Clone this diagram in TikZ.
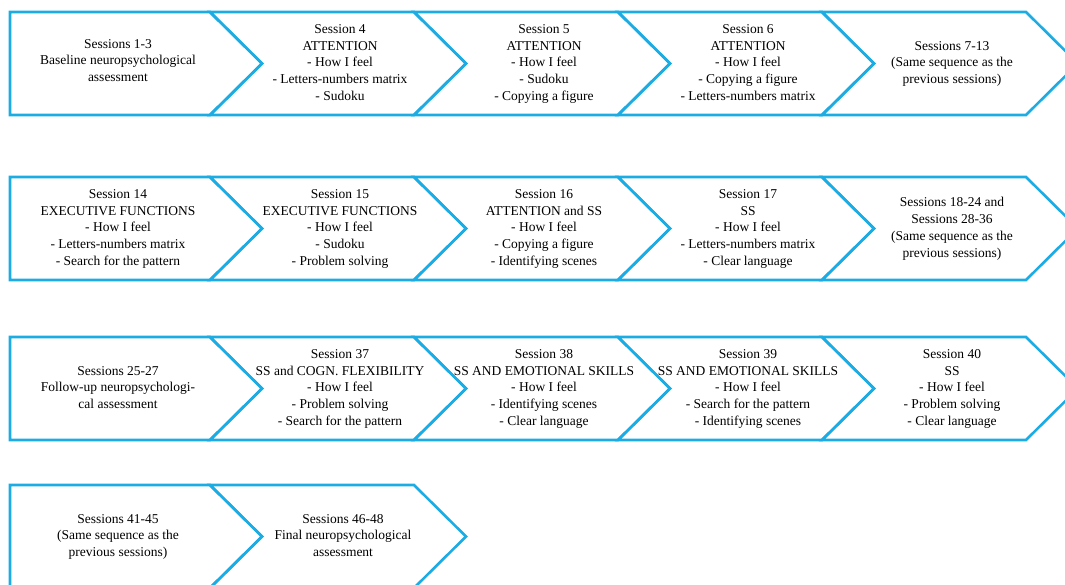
\documentclass[tikz,border=0pt]{standalone}
\usepackage{fontspec}
\setmainfont{Liberation Serif}
\usetikzlibrary{positioning}
\definecolor{chevblue}{RGB}{27,172,228}

\begin{document}
\begin{tikzpicture}[x=1pt,y=-1pt,
chev/.style={draw=chevblue,line width=2.6pt,line join=miter},
lbl/.style={align=center,font=\fontsize{13.5}{16.8}\selectfont,inner sep=0pt,
  execute at begin node=\strut,execute at end node=\strut}]

\useasboundingbox (0,0) rectangle (1065,584);

% elso nyilak (egyenes bal oldal)
\foreach \t in {12,177,337,485}
  \draw[chev] (10,\t) -- (210,\t) -- (262,\t+51.5) -- (210,\t+103) -- (10,\t+103) -- cycle;

% tobbi nyil
\foreach \t/\cols in {12/{210,414,618,822},177/{210,414,618,822},337/{210,414,618,822},485/{210}}
  \foreach \xl in \cols
    \draw[chev] (\xl,\t) -- (\xl+204,\t) -- (\xl+256,\t+51.5) -- (\xl+204,\t+103)
      -- (\xl,\t+103) -- (\xl+52,\t+51.5) -- cycle;

% elso sor
\node[lbl] (s1) at (118,63) {Sessions 1-3\\Baseline neuropsychological\\assessment};
\node[lbl] (s4) at (340,65) {Session 4\\ATTENTION\\- How I feel\\- Letters-numbers matrix\\- Sudoku};
\node[lbl] (s5) at (544,65) {Session 5\\ATTENTION\\- How I feel\\- Sudoku\\- Copying a figure};
\node[lbl] (s6) at (748,65) {Session 6\\ATTENTION\\- How I feel\\- Copying a figure\\- Letters-numbers matrix};
\node[lbl] (s7) at (952,65) {Sessions 7-13\\(Same sequence as the\\previous sessions)};

% masodik sor
\node[lbl] (s14) at (118,230) {Session 14\\EXECUTIVE FUNCTIONS\\- How I feel\\- Letters-numbers matrix\\- Search for the pattern};
\node[lbl] (s15) at (340,230) {Session 15\\EXECUTIVE FUNCTIONS\\- How I feel\\- Sudoku\\- Problem solving};
\node[lbl] (s16) at (544,230) {Session 16\\ATTENTION and SS\\- How I feel\\- Copying a figure\\- Identifying scenes};
\node[lbl] (s17) at (748,230) {Session 17\\SS\\- How I feel\\- Letters-numbers matrix\\- Clear language};
\node[lbl] (s18) at (952,230) {Sessions 18-24 and\\Sessions 28-36\\(Same sequence as the\\previous sessions)};

% harmadik sor
\node[lbl] (s25) at (118,390) {Sessions 25-27\\Follow-up neuropsychologi-\\cal assessment};
\node[lbl] (s37) at (340,390) {Session 37\\SS and COGN. FLEXIBILITY\\- How I feel\\- Problem solving\\- Search for the pattern};
\node[lbl] (s38) at (544,390) {Session 38\\SS AND EMOTIONAL SKILLS\\- How I feel\\- Identifying scenes\\- Clear language};
\node[lbl] (s39) at (748,390) {Session 39\\SS AND EMOTIONAL SKILLS\\- How I feel\\- Search for the pattern\\- Identifying scenes};
\node[lbl] (s40) at (952,390) {Session 40\\SS\\- How I feel\\- Problem solving\\- Clear language};

% negyedik sor
\node[lbl] (s41) at (118,538) {Sessions 41-45\\(Same sequence as the\\previous sessions)};
\node[lbl] (s46) at (343,538) {Sessions 46-48\\Final neuropsychological\\assessment};
\end{tikzpicture}
\end{document}
